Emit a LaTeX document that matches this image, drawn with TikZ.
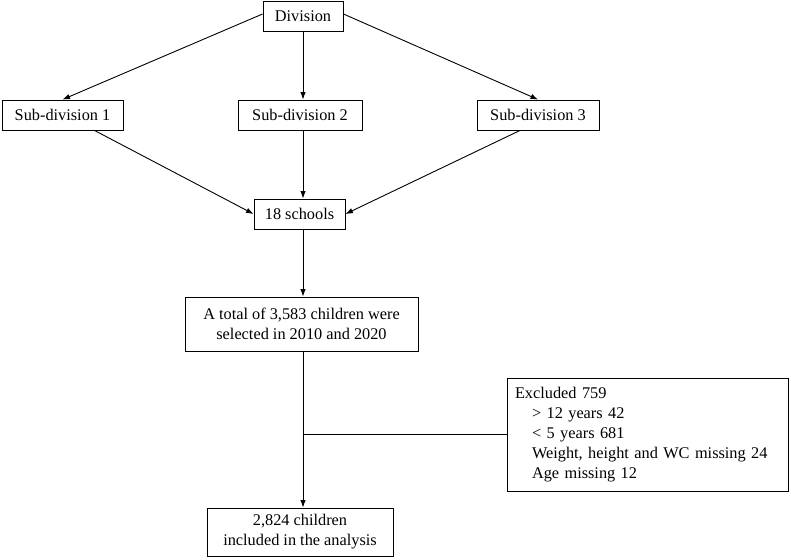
\documentclass[tikz,border=0pt]{standalone}
\usepackage{fontspec}
\setmainfont{Liberation Serif}
\usetikzlibrary{arrows.meta}
\begin{document}
\begin{tikzpicture}[x=1pt,y=-1pt,
  box/.style={draw=black,line width=0.9pt,inner sep=0pt,align=center,font=\fontsize{16.3}{20}\selectfont},
  conn/.style={line width=0.9pt,-{Latex[length=7.5pt,width=5.5pt]}},
  plain/.style={line width=0.9pt}]
\useasboundingbox (0,0) rectangle (791,559);
\node[box,minimum width=80,minimum height=30] (div) at (303,16) {Division};
\node[box,minimum width=121,minimum height=30] (s1) at (62.5,115) {Sub-division 1};
\node[box,minimum width=124,minimum height=30] (s2) at (300,115) {Sub-division 2};
\node[box,minimum width=122,minimum height=30] (s3) at (538,115) {Sub-division 3};
\node[box,minimum width=91,minimum height=30] (sch) at (299.5,214) {18 schools};
\node[box,minimum width=233,minimum height=54] (tot) at (301.5,324) {A total of 3,583 children were\\selected in 2010 and 2020};
\node[box,minimum width=186,minimum height=48] (inc) at (300,532) {2,824 children\\included in the analysis};
\node[box,minimum width=281,minimum height=113,align=left,text width=265,inner xsep=8pt] (exc) at (647.5,434.5) {Excluded 759\\\hspace*{17pt}> 12 years 42\\\hspace*{17pt}< 5 years 681\\\hspace*{17pt}Weight, height and WC missing 24\\\hspace*{17pt}Age missing 12};
\coordinate (br) at (303,434);
\draw[conn] ([yshift=2pt]div.west) -- (s1.north);
\draw[conn] (div.south) -- ([xshift=3pt]s2.north);
\draw[conn] ([yshift=2pt]div.east) -- (s3.north);
\draw[conn] ([xshift=32pt]s1.south) -- (sch.west);
\draw[conn] ([xshift=3pt]s2.south) -- ([xshift=3.5pt]sch.north);
\draw[conn] ([xshift=-18pt]s3.south) -- (sch.east);
\draw[conn] ([xshift=3.5pt]sch.south) -- ([xshift=1.5pt]tot.north);
\draw[conn] ([xshift=1.5pt]tot.south) -- ([xshift=3pt]inc.north);
\draw[plain] (br) -- (exc.west |- br);
\end{tikzpicture}
\end{document}
